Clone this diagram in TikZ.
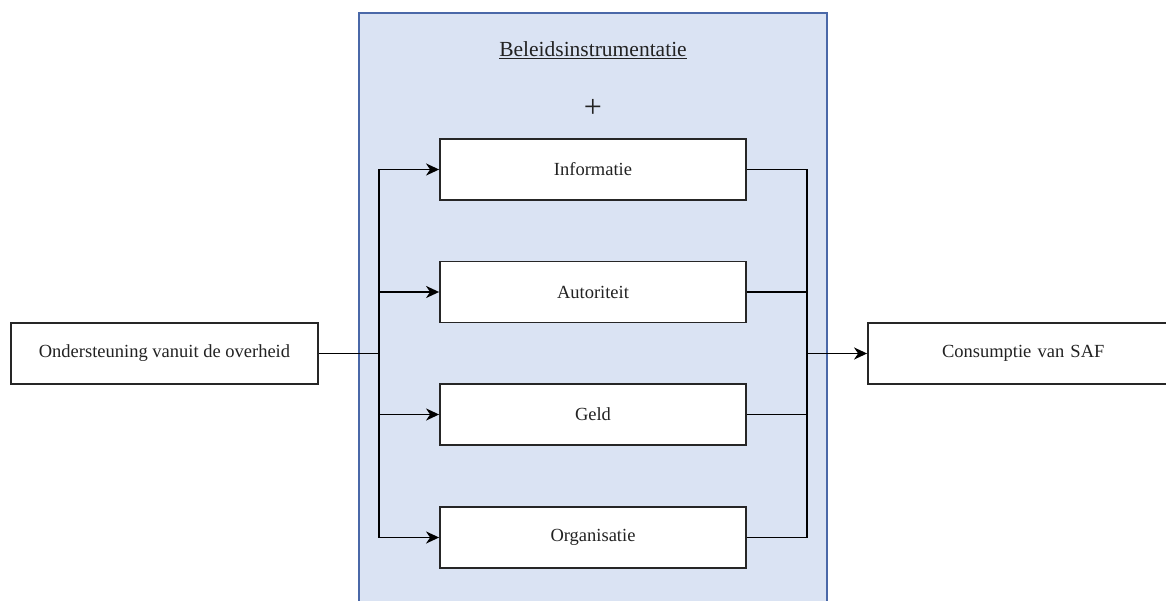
\documentclass[tikz,border=0pt]{standalone}
\usepackage{fontspec}
\setmainfont{Liberation Serif}
\usetikzlibrary{arrows.meta}
\definecolor{contfill}{HTML}{DAE3F3}
\definecolor{contdraw}{HTML}{4A68A8}
\definecolor{txt}{HTML}{222222}
\begin{document}
\begin{tikzpicture}[x=1pt,y=-1pt,
  box/.style={draw=black!85,line width=1.8pt,fill=white,minimum width=306pt,minimum height=61pt,inner sep=0pt,text=txt,font=\fontsize{18.5}{21}\selectfont},
  conn/.style={line width=1.8pt,draw=black},
  arr/.style={conn,-{Stealth[length=13pt,width=12pt,inset=4pt]}}]
\useasboundingbox (0,0) rectangle (1166,601);
\clip (0,0) rectangle (1166,601);
\fill[contfill,draw=contdraw,line width=1.6pt] (359,13) rectangle (827,640);
\node[text=txt,font=\fontsize{21.5}{24}\selectfont] (title) at (593,50) {\underline{Beleidsinstrumentatie}};
\node[text=txt,font=\fontsize{32}{36}\selectfont,inner sep=0pt] (plus) at (593,108) {+};
\node[box] (info) at (593,169.5) {Informatie};
\node[box] (auth) at (593,292) {Autoriteit};
\node[box] (geld) at (593,414.5) {Geld};
\node[box] (org) at (593,537.5) {Organisatie};
\node[box,minimum width=307pt] (left) at (164.5,353.5) {Ondersteuning vanuit de overheid};
\node[box,minimum width=320pt,text width=296pt,align=left] (right) at (1028,353.5) {\hspace*{62pt}Consumptie van SAF};
\coordinate (jl) at (379,353.5);
\coordinate (jr) at (807,353.5);
\draw[conn] (left.east) -- (jl);
\draw[arr] (jl) |- (info.west);
\draw[arr] (jl) |- (auth.west);
\draw[arr] (jl) |- (geld.west);
\draw[arr] (jl) |- (org.west);
\draw[conn] (info.east) -| (jr);
\draw[conn] (auth.east) -| (jr);
\draw[conn] (geld.east) -| (jr);
\draw[conn] (org.east) -| (jr);
\draw[arr] (jr) -- (right.west);
\end{tikzpicture}
\end{document}
